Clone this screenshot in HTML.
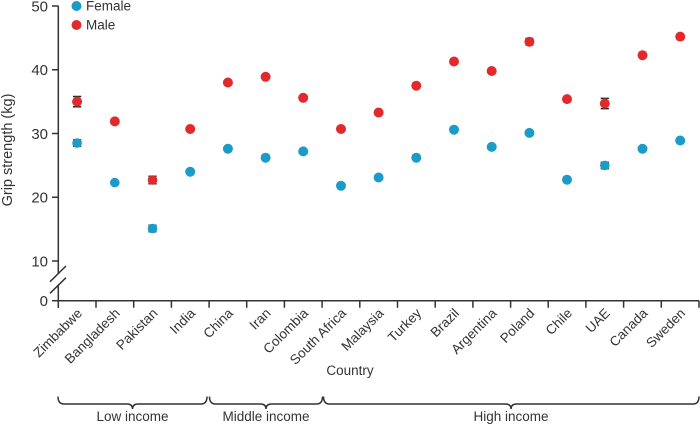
<!DOCTYPE html>
<html><head><meta charset="utf-8"><style>
html,body{margin:0;padding:0;background:#fff;}
svg{display:block;}
text{font-family:"Liberation Sans",sans-serif;fill:#333;}
</style></head><body>
<svg width="700" height="425" viewBox="0 0 700 425" xmlns="http://www.w3.org/2000/svg">
<g stroke="#333" stroke-width="1.5" fill="none">
  <line x1="58.3" y1="5.7" x2="58.3" y2="274"/>
  <line x1="58.3" y1="285.5" x2="58.3" y2="308"/>
  <line x1="50" y1="281.7" x2="66" y2="266"/>
  <line x1="50" y1="293.3" x2="66" y2="277.7"/>
  <line x1="58.3" y1="300.7" x2="699" y2="300.7"/>
  <line x1="52" y1="6" x2="58.3" y2="6"/>
  <line x1="52" y1="69.75" x2="58.3" y2="69.75"/>
  <line x1="52" y1="133.5" x2="58.3" y2="133.5"/>
  <line x1="52" y1="197.25" x2="58.3" y2="197.25"/>
  <line x1="52" y1="261" x2="58.3" y2="261"/>
  <line x1="52" y1="300.7" x2="58.3" y2="300.7"/>
  <path d="M96 300.7v7 M133.7 300.7v7 M171.4 300.7v7 M209.1 300.7v7 M246.7 300.7v7 M284.4 300.7v7 M322.1 300.7v7 M359.8 300.7v7 M397.5 300.7v7 M435.2 300.7v7 M472.9 300.7v7 M510.6 300.7v7 M548.2 300.7v7 M585.9 300.7v7 M623.6 300.7v7 M661.3 300.7v7 M699 300.7v7"/>
</g>
<g font-size="15" text-anchor="end">
  <text x="48" y="11.3">50</text>
  <text x="48" y="75.1">40</text>
  <text x="48" y="138.8">30</text>
  <text x="48" y="202.6">20</text>
  <text x="48" y="266.3">10</text>
  <text x="48" y="306">0</text>
</g>
<text transform="translate(12,150) rotate(-90)" text-anchor="middle" font-size="14.5">Grip strength (kg)</text>

<circle cx="76.5" cy="6" r="5" fill="#1b9cc8"/>
<text x="86" y="10.5" font-size="13.5">Female</text>
<circle cx="76.5" cy="25" r="5" fill="#e2292b"/>
<text x="86" y="29.5" font-size="13.5">Male</text>

<g stroke="#2a2a2a" stroke-width="1.5">
  <path d="M77.1 96.5v10.2 M73 96.5h8.2 M73 106.7h8.2"/>
  <path d="M77.1 139.9v6.4 M73 139.9h8.2 M73 146.3h8.2"/>
  <path d="M114.8 119.5v3.8 M110.7 119.5h8.2 M110.7 123.3h8.2"/>
  <path d="M152.5 176.2v7.6 M148.4 176.2h8.2 M148.4 183.8h8.2"/>
  <path d="M152.5 225.3v6.4 M148.4 225.3h8.2 M148.4 231.7h8.2"/>
  <path d="M341 127.1v3.8 M336.9 127.1h8.2 M336.9 130.9h8.2"/>
  <path d="M529.4 38.5v6.4 M525.3 38.5h8.2 M525.3 44.9h8.2"/>
  <path d="M604.8 98.4v10.2 M600.7 98.4h8.2 M600.7 108.6h8.2"/>
  <path d="M604.8 162.2v6.4 M600.7 162.2h8.2 M600.7 168.6h8.2"/>
</g>

<g fill="#1b9cc8">
  <circle cx="77.1" cy="143.1" r="4.8"/>
  <circle cx="114.8" cy="182.6" r="4.8"/>
  <circle cx="152.5" cy="228.5" r="4.8"/>
  <circle cx="190.2" cy="171.75" r="5"/>
  <circle cx="227.9" cy="148.8" r="5"/>
  <circle cx="265.6" cy="157.7" r="5"/>
  <circle cx="303.2" cy="151.35" r="5"/>
  <circle cx="341" cy="185.8" r="5"/>
  <circle cx="378.6" cy="177.5" r="5"/>
  <circle cx="416.3" cy="157.7" r="5"/>
  <circle cx="454" cy="129.7" r="5"/>
  <circle cx="491.7" cy="146.9" r="5"/>
  <circle cx="529.4" cy="132.9" r="5"/>
  <circle cx="567" cy="179.7" r="5"/>
  <circle cx="604.8" cy="165.4" r="4.8"/>
  <circle cx="642.5" cy="148.8" r="5"/>
  <circle cx="680.2" cy="140.5" r="5"/>
</g>
<g fill="#e2292b">
  <circle cx="77.1" cy="101.6" r="5"/>
  <circle cx="114.8" cy="121.4" r="5"/>
  <circle cx="152.5" cy="180" r="4.8"/>
  <circle cx="190.2" cy="129" r="5"/>
  <circle cx="227.9" cy="82.5" r="5"/>
  <circle cx="265.6" cy="76.8" r="5"/>
  <circle cx="303.2" cy="97.8" r="5"/>
  <circle cx="341" cy="129" r="5"/>
  <circle cx="378.6" cy="112.5" r="5"/>
  <circle cx="416.3" cy="85.7" r="5"/>
  <circle cx="454" cy="61.5" r="5"/>
  <circle cx="491.7" cy="71" r="5"/>
  <circle cx="529.4" cy="41.7" r="5"/>
  <circle cx="567" cy="99.1" r="5"/>
  <circle cx="604.8" cy="103.5" r="5"/>
  <circle cx="642.5" cy="55.2" r="5"/>
  <circle cx="680.2" cy="36.6" r="5"/>
</g>

<g font-size="13.5" text-anchor="end">
  <text transform="translate(83,314) rotate(-45)">Zimbabwe</text>
  <text transform="translate(120.7,314) rotate(-45)">Bangladesh</text>
  <text transform="translate(158.4,314) rotate(-45)">Pakistan</text>
  <text transform="translate(196.1,314) rotate(-45)">India</text>
  <text transform="translate(233.8,314) rotate(-45)">China</text>
  <text transform="translate(271.5,314) rotate(-45)">Iran</text>
  <text transform="translate(309.1,314) rotate(-45)">Colombia</text>
  <text transform="translate(346.9,314) rotate(-45)">South Africa</text>
  <text transform="translate(384.5,314) rotate(-45)">Malaysia</text>
  <text transform="translate(422.2,314) rotate(-45)">Turkey</text>
  <text transform="translate(459.9,314) rotate(-45)">Brazil</text>
  <text transform="translate(497.6,314) rotate(-45)">Argentina</text>
  <text transform="translate(535.3,314) rotate(-45)">Poland</text>
  <text transform="translate(572.9,314) rotate(-45)">Chile</text>
  <text transform="translate(610.7,314) rotate(-45)">UAE</text>
  <text transform="translate(648.4,314) rotate(-45)">Canada</text>
  <text transform="translate(686.1,314) rotate(-45)">Sweden</text>
</g>
<text x="350" y="375" font-size="13.5" text-anchor="middle">Country</text>

<g stroke="#333" stroke-width="1.5" fill="none">
  <path d="M58 396.5 Q58 404 64 404 L127 404 Q132.5 404 132.5 409 Q132.5 404 138 404 L201 404 Q207 404 207 396.5"/>
  <path d="M209.5 396.5 Q209.5 404 215.5 404 L260.5 404 Q266 404 266 409 Q266 404 271.5 404 L316.5 404 Q322.5 404 322.5 396.5"/>
  <path d="M323.5 396.5 Q323.5 404 329.5 404 L505.5 404 Q511 404 511 409 Q511 404 516.5 404 L693 404 Q699 404 699 396.5"/>
</g>
<g font-size="13.5" text-anchor="middle">
  <text x="132.5" y="421">Low income</text>
  <text x="266" y="421">Middle income</text>
  <text x="511" y="421">High income</text>
</g>
</svg>
</body></html>
